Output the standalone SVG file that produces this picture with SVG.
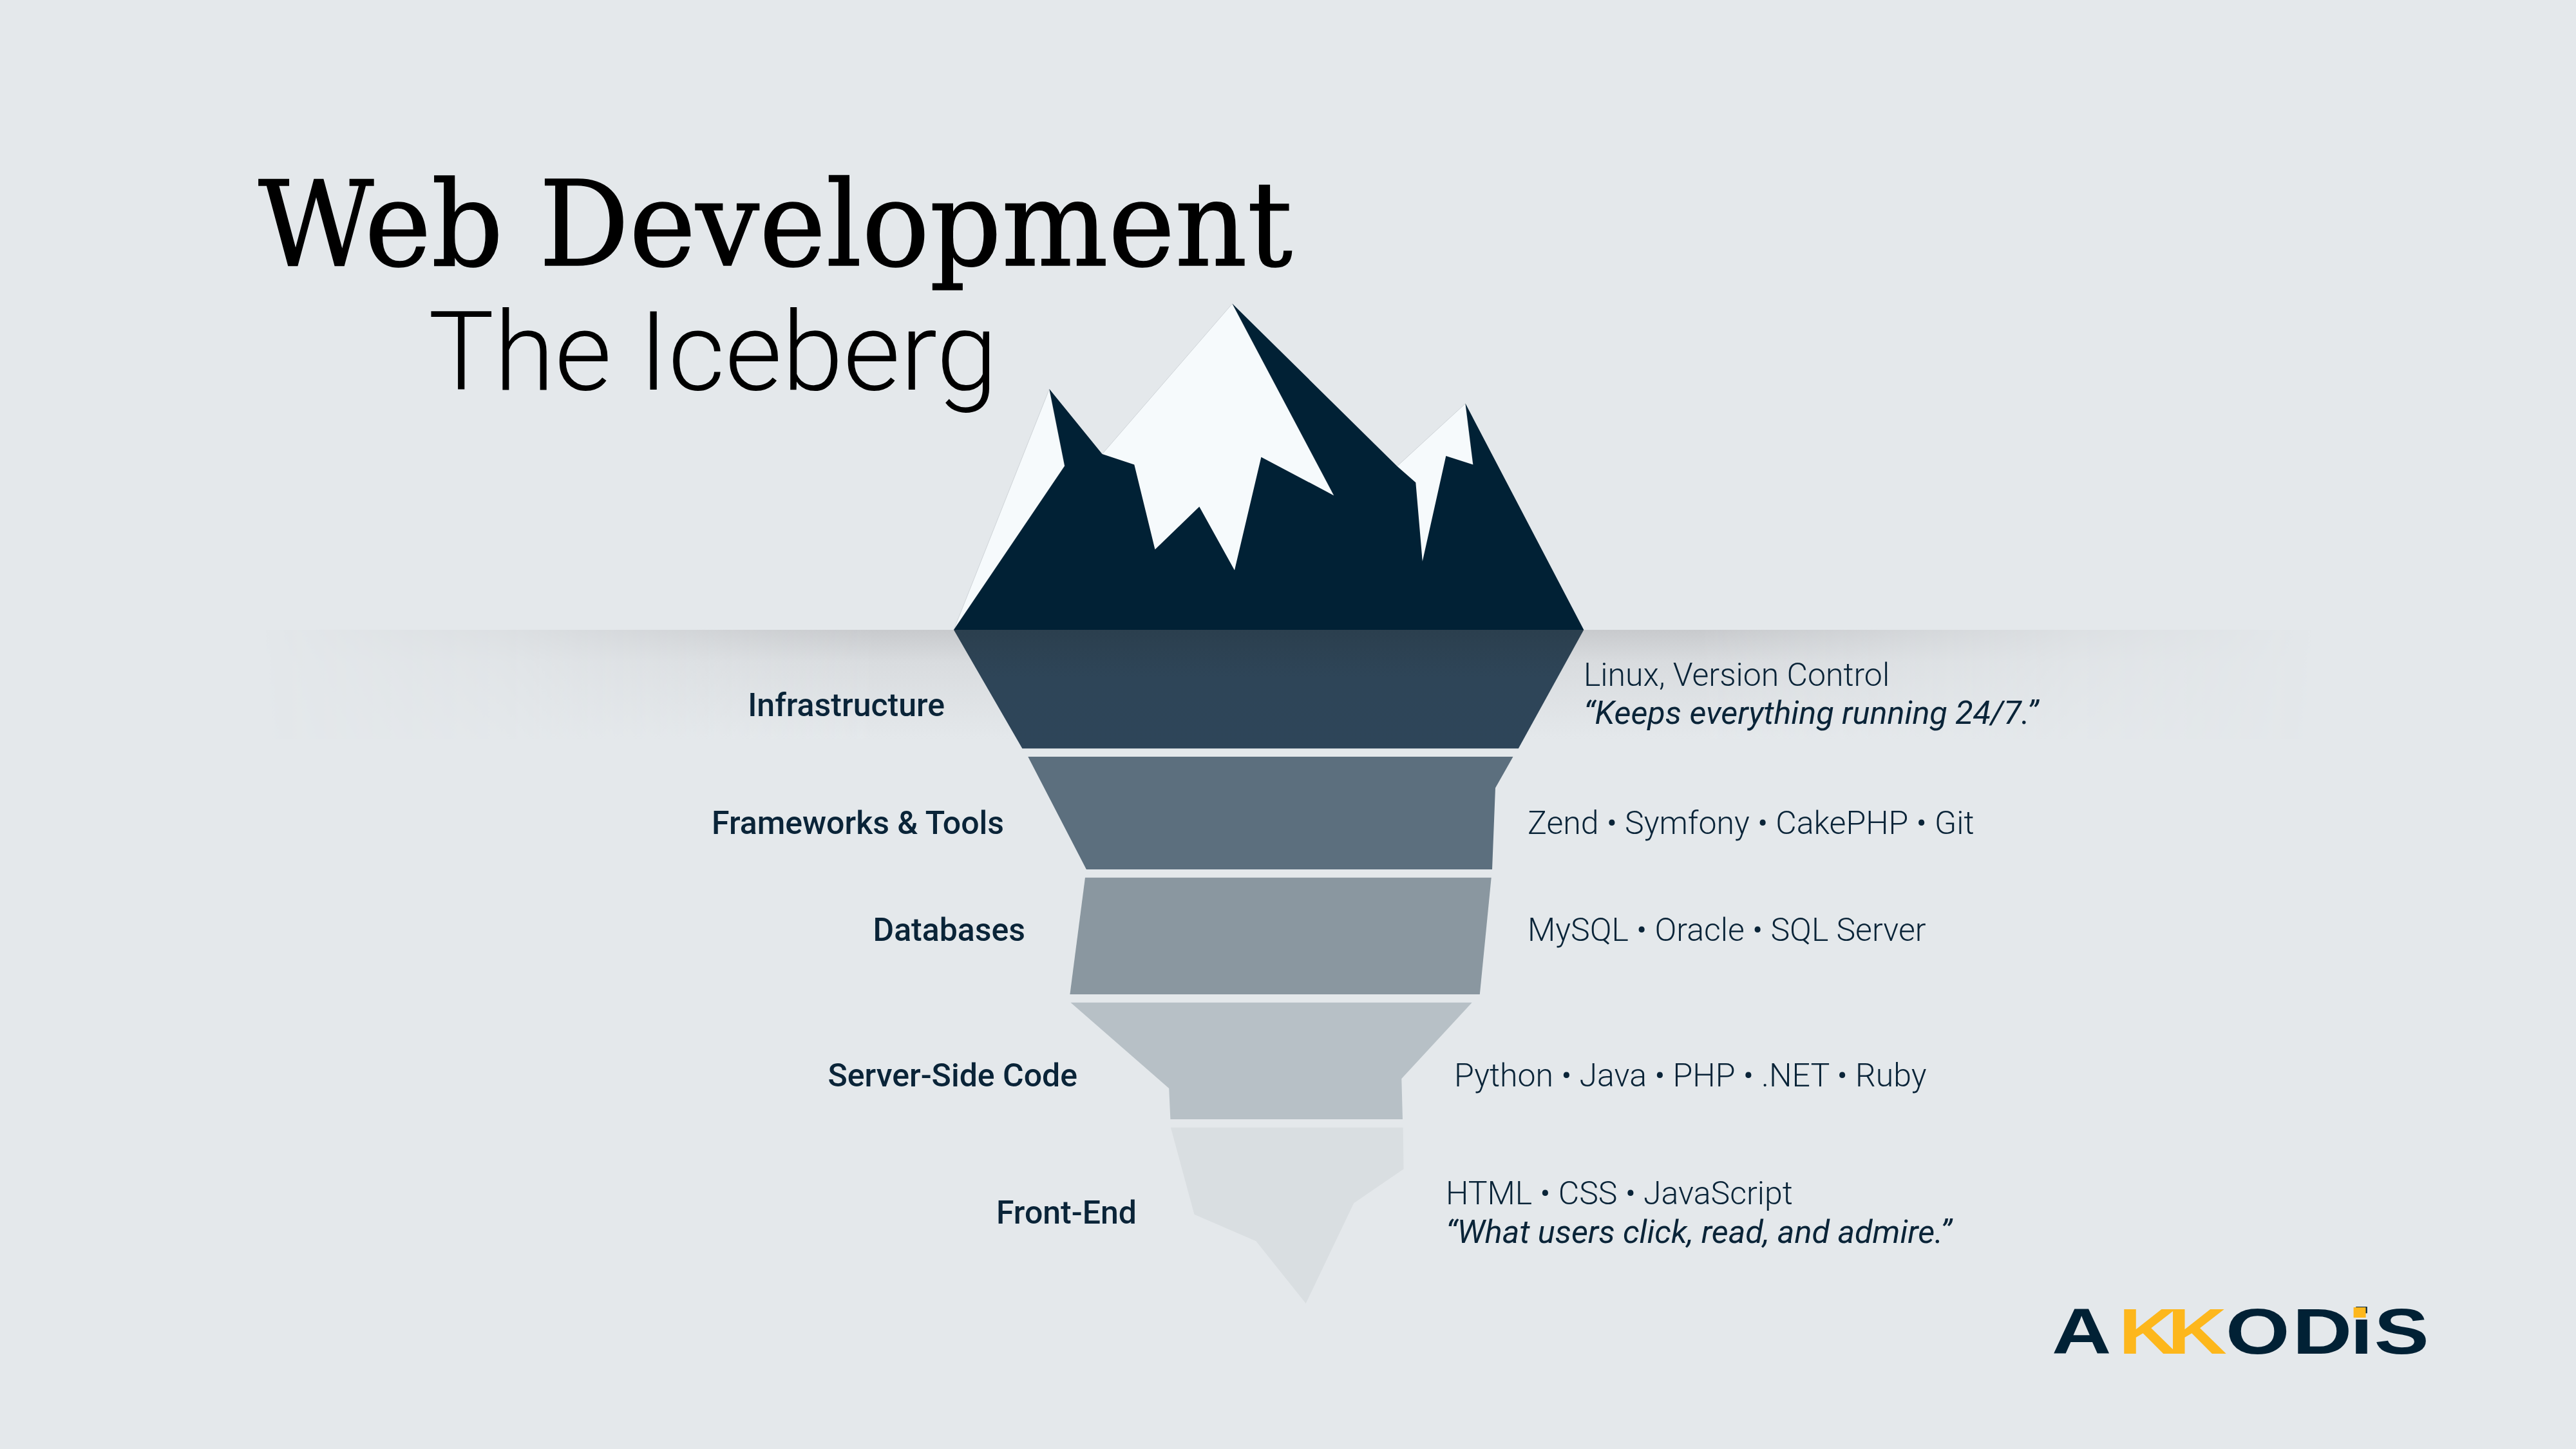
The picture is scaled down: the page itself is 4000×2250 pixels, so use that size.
<svg xmlns="http://www.w3.org/2000/svg" width="4000" height="2250" viewBox="0 0 4000 2250">
<style>
text{font-family:Roboto,"Liberation Sans",sans-serif;fill:#0a2438}
.lab{font-size:50px;font-weight:500;text-anchor:end}
.det{font-size:50px;font-weight:300}
.quo{font-size:50.4px;font-weight:400;font-style:italic}
.snow{fill:#f6fafc;stroke:#cfd4d8;stroke-width:1}
</style>
<defs>
<linearGradient id="sv" x1="0" y1="0" x2="0" y2="1"><stop offset="0" stop-color="#c8cacd"/><stop offset="0.3" stop-color="#d9dcdf"/><stop offset="1" stop-color="#e4e8eb"/></linearGradient>
<linearGradient id="sh" x1="0" y1="0" x2="1" y2="0"><stop offset="0" stop-color="#000"/><stop offset="0.12" stop-color="#444"/><stop offset="0.3" stop-color="#fff"/><stop offset="0.7" stop-color="#fff"/><stop offset="0.88" stop-color="#444"/><stop offset="1" stop-color="#000"/></linearGradient>
<mask id="sm" maskUnits="userSpaceOnUse" x="400" y="960" width="3200" height="240"><rect x="400" y="960" width="3200" height="240" fill="url(#sh)"/></mask>
<linearGradient id="b1" x1="0" y1="0" x2="0" y2="1"><stop offset="0" stop-color="#2b3f4e"/><stop offset="0.4" stop-color="#2e4558"/><stop offset="1" stop-color="#2e4559"/></linearGradient>
</defs>
<rect width="4000" height="2250" fill="#e4e8eb"/>
<rect id="waterline" x="400" y="978" width="3200" height="170" fill="url(#sv)" mask="url(#sm)"/>
<g id="title">
<text x="401" y="412" font-size="184" textLength="1606" lengthAdjust="spacingAndGlyphs" style="font-family:'DejaVu Serif',serif;fill:#000;stroke:#000;stroke-width:1.5px">Web Development</text>
<text x="665" y="605" font-size="171" textLength="884" lengthAdjust="spacingAndGlyphs" style="font-weight:300;fill:#000">The Iceberg</text>
</g>
<g id="peak">
<polygon class="snow" points="1629.4,604 1481,978 1653.2,723.5"/>
<polygon class="snow" points="1913.5,471.6 2071.3,769.4 1917,885.6 1793.5,853.2 1711.5,705"/>
<polygon class="snow" points="2275.5,626.6 2287.4,721.5 2208.8,871.8 2169.5,723.9"/>
<polygon fill="#012135" points="1481,978 1653.2,723.5 1629.4,604 1711.5,705 1761.3,721.5 1793.5,853.2 1862.3,786.8 1917,885.6 1958.4,709.7 2071.3,769.4 1913.5,471.6 2169.5,723.9 2198.3,749.2 2208.8,871.8 2245.3,708.1 2287.4,721.5 2275.5,626.6 2459.3,978"/>
</g>
<g id="infrastructure">
<polygon fill="url(#b1)" points="1481,978 2459.3,978 2357.8,1162.3 1587.4,1162.3"/>
<text class="lab" x="1467" y="1112">Infrastructure</text>
<text class="det" x="2459" y="1065">Linux, Version Control</text>
<text class="quo" x="2459" y="1124">“Keeps everything running 24/7.”</text>
</g>
<g id="frameworks">
<polygon fill="#5c6f7e" points="1596.3,1175 2349.5,1175 2322,1223.6 2317,1350 1686.9,1350"/>
<text class="lab" x="1559" y="1295">Frameworks &amp; Tools</text>
<text class="det" x="2372" y="1295">Zend • Symfony • CakePHP • Git</text>
</g>
<g id="databases">
<polygon fill="#8a97a0" points="1685,1362.8 2315.7,1362.8 2297.8,1543.9 1661.4,1543.9"/>
<text class="lab" x="1592" y="1461">Databases</text>
<text class="det" x="2372" y="1461">MySQL • Oracle • SQL Server</text>
</g>
<g id="server-side">
<polygon fill="#b7c0c6" points="1662.5,1556.7 2285.7,1556.7 2176.3,1675 2178,1738 1817.4,1738 1815.2,1690"/>
<text class="lab" x="1673" y="1687">Server-Side Code</text>
<text class="det" x="2258" y="1687">Python • Java • PHP • .NET • Ruby</text>
</g>
<g id="front-end">
<polygon fill="#d9dee1" points="1817.9,1750.7 2178.6,1750.7 2179.5,1815.3 2102.2,1868.3 2027.7,2024 1950.4,1927.3 1854.5,1885.7"/>
<text class="lab" x="1765" y="1900">Front-End</text>
<text class="det" x="2245" y="1870">HTML • CSS • JavaScript</text>
<text class="quo" x="2245" y="1930">“What users click, read, and admire.”</text>
</g>
<g id="logo">
<text transform="translate(3186,2102) scale(1.28,1)" font-size="100" style="font-family:'Liberation Sans',sans-serif;font-weight:700;fill:#012135"><tspan x="0">A</tspan><tspan x="81" letter-spacing="-13" style="fill:#fdb71c">KK</tspan><tspan x="211">O</tspan><tspan x="292">D</tspan><tspan x="362">i</tspan><tspan x="391">S</tspan></text>
<rect x="3654.6" y="2030" width="19" height="16" fill="#fdb71c"/>
</g>
</svg>
